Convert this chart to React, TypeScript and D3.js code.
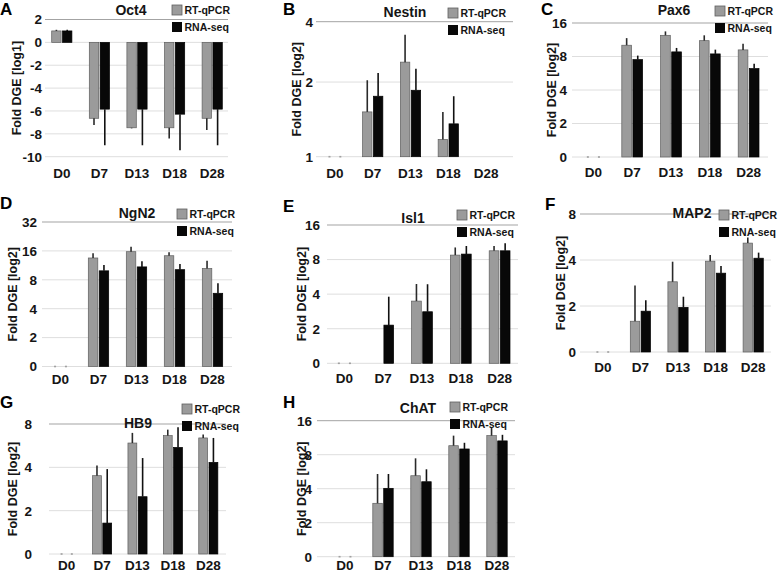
import React from "react";
import * as d3 from "d3";

const FONT = "'Liberation Sans', Arial, Helvetica, sans-serif";

const categories = ["D0", "D7", "D13", "D18", "D28"];
const seriesNames = ["RT-qPCR", "RNA-seq"];

// A — Oct4 (linear, log1)
const oct4Ticks = [-10, -8, -6, -4, -2, 0, 2];
const oct4TickLabels = ["-10", "-8", "-6", "-4", "-2", "0", "2"];
const oct4Qpcr = [1.0, -6.64, -7.47, -7.47, -6.64];
const oct4QpcrErr = [1.1, -7.23, -7.52, -8.4, -7.67];
const oct4Seq = [1.0, -5.84, -5.84, -6.28, -5.84];
const oct4SeqErr = [1.1, -9.0, -9.0, -9.44, -9.0];

// B — Nestin
const nestinTicks = [1, 2, 4];
const nestinTickLabels = ["1", "2", "4"];
const nestinQpcr = [1, 1.6, 2.66, 1.23, null];
const nestinQpcrErr = [1, 2.06, 3.57, 1.6, null];
const nestinSeq = [1, 1.81, 1.89, 1.44, null];
const nestinSeqErr = [1, 2.3, 2.44, 1.81, null];

// C — Pax6
const pax6Ticks = [1, 2, 4, 8, 16];
const pax6TickLabels = ["0", "2", "4", "8", "16"];
const pax6Qpcr = [1, 10.1, 12.4, 11.1, 9.17];
const pax6QpcrErr = [1, 11.7, 13.45, 12.4, 10.4];
const pax6Seq = [1, 7.5, 8.8, 8.44, 6.23];
const pax6SeqErr = [1, 8.15, 9.55, 9.22, 6.9];

// D — NgN2
const ngn2Ticks = [1, 2, 4, 8, 16, 32];
const ngn2TickLabels = ["0", "2", "4", "8", "16", "32"];
const ngn2Qpcr = [1, 13.5, 15.7, 14.25, 10.5];
const ngn2QpcrErr = [1, 15.1, 17.7, 15.5, 12.6];
const ngn2Seq = [1, 9.92, 10.9, 10.2, 5.79];
const ngn2SeqErr = [1, 11.4, 12.45, 11.66, 7.37];

// E — Isl1
const isl1Ticks = [1, 2, 4, 8, 16];
const isl1TickLabels = ["0", "2", "4", "8", "16"];
const isl1Qpcr = [1, null, 3.48, 8.75, 9.54];
const isl1QpcrErr = [1, null, 4.9, 10.2, 10.5];
const isl1Seq = [1, 2.15, 2.81, 8.93, 9.54];
const isl1SeqErr = [1, 3.8, 4.88, 10.5, 11.1];

// F — MAP2
const map2Ticks = [1, 2, 4, 8];
const map2TickLabels = ["0", "2", "4", "8"];
const map2Qpcr = [1, 1.59, 2.88, 3.93, 5.16];
const map2QpcrErr = [1, 2.72, 3.9, 4.32, 5.61];
const map2Seq = [1, 1.85, 1.96, 3.28, 4.11];
const map2SeqErr = [1, 2.18, 2.3, 3.66, 4.47];

// G — HB9
const hb9Ticks = [1, 2, 4, 8];
const hb9TickLabels = ["0", "2", "4", "8"];
const hb9Qpcr = [1, 3.5, 5.9, 6.64, 6.4];
const hb9QpcrErr = [1, 4.12, 6.94, 7.31, 6.75];
const hb9Seq = [1, 1.64, 2.5, 5.5, 4.33];
const hb9SeqErr = [1, 3.89, 4.64, 7.59, 6.4];

// H — ChAT
const chatTicks = [1, 2, 4, 8, 16];
const chatTickLabels = ["0", "2", "4", "8", "16"];
const chatQpcr = [1, 2.97, 5.21, 9.61, 11.8];
const chatQpcrErr = [1, 5.4, 7.43, 11.8, 14.0];
const chatSeq = [1, 4.03, 4.61, 8.99, 10.6];
const chatSeqErr = [1, 5.4, 5.94, 10.2, 12.0];

type Layout = {
  letter: [number, number];
  title: [number, number];
  legend: [number, number];
  bandX: [number, number];
  gridX: [number, number];
  yRange: [number, number];
  tickX: number;
  yLabelX: number;
  catY: number;
};

type Panel = {
  letter: string;
  title: string;
  yLabel: string;
  scale: "linear" | "log2" | "piece";
  ticks: number[];
  tickLabels: string[];
  qpcr: (number | null)[];
  qpcrErr: (number | null)[];
  seq: (number | null)[];
  seqErr: (number | null)[];
  layout: Layout;
};

const panels: Panel[] = [
  {
    letter: "A", title: "Oct4", yLabel: "Fold DGE [log1]", scale: "linear",
    ticks: oct4Ticks, tickLabels: oct4TickLabels,
    qpcr: oct4Qpcr, qpcrErr: oct4QpcrErr, seq: oct4Seq, seqErr: oct4SeqErr,
    layout: { letter: [0, 14.5], title: [131, 15], legend: [172, 5], bandX: [43, 231], gridX: [45, 228], yRange: [156.7, 19.5], tickX: 42, yLabelX: 17, catY: 178 },
  },
  {
    letter: "B", title: "Nestin", yLabel: "Fold DGE [log2]", scale: "piece",
    ticks: nestinTicks, tickLabels: nestinTickLabels,
    qpcr: nestinQpcr, qpcrErr: nestinQpcrErr, seq: nestinSeq, seqErr: nestinSeqErr,
    layout: { letter: [283, 15], title: [405, 16.5], legend: [448, 8], bandX: [316, 505], gridX: [316, 513], yRange: [156.7, 21.7], tickX: 313, yLabelX: 297, catY: 178 },
  },
  {
    letter: "C", title: "Pax6", yLabel: "Fold DGE [log2]", scale: "log2",
    ticks: pax6Ticks, tickLabels: pax6TickLabels,
    qpcr: pax6Qpcr, qpcrErr: pax6QpcrErr, seq: pax6Seq, seqErr: pax6SeqErr,
    layout: { letter: [541, 15], title: [674, 15], legend: [715, 6], bandX: [574, 768], gridX: [572, 768], yRange: [157, 23], tickX: 567, yLabelX: 552, catY: 177 },
  },
  {
    letter: "D", title: "NgN2", yLabel: "Fold DGE [log2]", scale: "log2",
    ticks: ngn2Ticks, tickLabels: ngn2TickLabels,
    qpcr: ngn2Qpcr, qpcrErr: ngn2QpcrErr, seq: ngn2Seq, seqErr: ngn2SeqErr,
    layout: { letter: [0, 209], title: [137, 218], legend: [177, 209], bandX: [41.5, 231.5], gridX: [42, 232], yRange: [366.5, 222], tickX: 37, yLabelX: 13, catY: 384 },
  },
  {
    letter: "E", title: "Isl1", yLabel: "Fold DGE [log2]", scale: "log2",
    ticks: isl1Ticks, tickLabels: isl1TickLabels,
    qpcr: isl1Qpcr, qpcrErr: isl1QpcrErr, seq: isl1Seq, seqErr: isl1SeqErr,
    layout: { letter: [283, 211.5], title: [413, 223], legend: [457, 210], bandX: [325, 519], gridX: [327, 518], yRange: [363.3, 225], tickX: 320, yLabelX: 302, catY: 383 },
  },
  {
    letter: "F", title: "MAP2", yLabel: "Fold DGE [log2]", scale: "log2",
    ticks: map2Ticks, tickLabels: map2TickLabels,
    qpcr: map2Qpcr, qpcrErr: map2QpcrErr, seq: map2Seq, seqErr: map2SeqErr,
    layout: { letter: [545, 210], title: [692, 218], legend: [719, 210], bandX: [584, 772], gridX: [580, 771], yRange: [352, 214], tickX: 576, yLabelX: 561, catY: 372 },
  },
  {
    letter: "G", title: "HB9", yLabel: "Fold DGE [log2]", scale: "log2",
    ticks: hb9Ticks, tickLabels: hb9TickLabels,
    qpcr: hb9Qpcr, qpcrErr: hb9QpcrErr, seq: hb9Seq, seqErr: hb9SeqErr,
    layout: { letter: [0, 407.5], title: [138, 428], legend: [182, 404], bandX: [49, 226], gridX: [49, 226], yRange: [554, 424], tickX: 32, yLabelX: 13, catY: 569.5 },
  },
  {
    letter: "H", title: "ChAT", yLabel: "Fold DGE [log2]", scale: "log2",
    ticks: chatTicks, tickLabels: chatTickLabels,
    qpcr: chatQpcr, qpcrErr: chatQpcrErr, seq: chatSeq, seqErr: chatSeqErr,
    layout: { letter: [283, 407.5], title: [418, 413], legend: [450, 402], bandX: [326, 516], gridX: [317, 515], yRange: [556.7, 420.7], tickX: 312, yLabelX: 302, catY: 569.5 },
  },
];

const GRAY_FILL = "#9b9b9b";
const GRAY_STROKE = "#5f5f5f";
const BLACK_FILL = "#080808";
const TEXT = "#151515";

function PanelView({ p }: { p: Panel }) {
  const L = p.layout;
  const x = d3.scaleBand<string>().domain(categories).range(L.bandX).padding(0);
  const [bottom, top] = L.yRange;
  let y: (v: number) => number;
  let base: number;
  if (p.scale === "linear") {
    const s = d3.scaleLinear().domain([d3.min(p.ticks)!, d3.max(p.ticks)!]).range([bottom, top]);
    y = (v) => s(v);
    base = 0;
  } else if (p.scale === "log2") {
    const s = d3.scaleLog().base(2).domain([1, d3.max(p.ticks)!]).range([bottom, top]);
    y = (v) => s(v);
    base = 1;
  } else {
    const s = d3.scaleLinear().domain(p.ticks).range([bottom, bottom - (bottom - top) * 0.553, top]);
    y = (v) => s(v);
    base = 1;
  }
  const bw = x.bandwidth() * 0.25;
  const gap = 1.4;
  const topTick = d3.max(p.ticks)!;

  const series = [
    { vals: p.qpcr, errs: p.qpcrErr, fill: GRAY_FILL, stroke: GRAY_STROKE, err: "#2a2a2a", off: -gap / 2 - bw },
    { vals: p.seq, errs: p.seqErr, fill: BLACK_FILL, stroke: "#000", err: "#111", off: gap / 2 },
  ];

  const midY = (bottom + top) / 2;
  const [lx, ly] = L.legend;

  return (
    <g>
      {p.ticks.map((t) => (
        <line
          key={"g" + t}
          x1={L.gridX[0]}
          x2={L.gridX[1]}
          y1={y(t)}
          y2={y(t)}
          stroke={t === topTick ? "#a3a3a3" : "#dedede"}
          strokeWidth={1}
        />
      ))}
      {series.map((s, si) =>
        categories.map((c, i) => {
          const v = s.vals[i];
          if (v == null) return null;
          const bx = x(c)! + x.bandwidth() / 2 + s.off;
          const y0 = y(base);
          const y1 = y(v);
          const h = Math.abs(y1 - y0);
          if (h < 0.8) {
            return (
              <rect key={`d${si}-${i}`} x={bx + bw / 2 - 1} y={y0 - 0.8} width={2} height={1.6} fill="#a0a0a0" />
            );
          }
          const e = s.errs[i];
          return (
            <g key={`b${si}-${i}`}>
              <rect
                x={bx}
                y={Math.min(y0, y1)}
                width={bw}
                height={h}
                fill={s.fill}
                stroke={s.stroke}
                strokeWidth={0.7}
              />
              {e != null && (
                <line
                  x1={bx + bw / 2}
                  x2={bx + bw / 2}
                  y1={y1}
                  y2={y(e)}
                  stroke={s.err}
                  strokeWidth={1.6}
                />
              )}
            </g>
          );
        })
      )}
      {p.ticks.map((t, i) => (
        <text
          key={"t" + t}
          x={L.tickX}
          y={y(t)}
          dy="0.36em"
          textAnchor="end"
          fontSize={13.5}
          fontWeight="bold"
          fill={TEXT}
        >
          {p.tickLabels[i]}
        </text>
      ))}
      <text
        transform={`translate(${L.yLabelX},${midY}) rotate(-90)`}
        dy="0.35em"
        textAnchor="middle"
        fontSize={12.5}
        fontWeight="bold"
        fill={TEXT}
      >
        {p.yLabel}
      </text>
      {categories.map((c) => (
        <text
          key={"c" + c}
          x={x(c)! + x.bandwidth() / 2}
          y={L.catY}
          textAnchor="middle"
          fontSize={13.5}
          fontWeight="bold"
          fill={TEXT}
        >
          {c}
        </text>
      ))}
      <text x={L.title[0]} y={L.title[1]} textAnchor="middle" fontSize={14} fontWeight="bold" fill={TEXT}>
        {p.title}
      </text>
      <text x={L.letter[0]} y={L.letter[1]} fontSize={17} fontWeight="bold" fill="#000">
        {p.letter}
      </text>
      <rect x={lx} y={ly} width={10} height={10} fill={GRAY_FILL} stroke={GRAY_STROKE} strokeWidth={0.8} />
      <text x={lx + 12.5} y={ly + 9} fontSize={10.5} fontWeight="bold" fill={TEXT}>
        {seriesNames[0]}
      </text>
      <rect x={lx} y={ly + 17} width={10} height={10} fill={BLACK_FILL} />
      <text x={lx + 12.5} y={ly + 26} fontSize={10.5} fontWeight="bold" fill={TEXT}>
        {seriesNames[1]}
      </text>
    </g>
  );
}

export default function App() {
  return (
    <div style={{ position: "absolute", left: 0, top: 0 }}>
      <svg width={778} height={573} style={{ display: "block", fontFamily: FONT, background: "#fff" }}>
        {panels.map((p) => (
          <PanelView key={p.letter} p={p} />
        ))}
      </svg>
    </div>
  );
}
